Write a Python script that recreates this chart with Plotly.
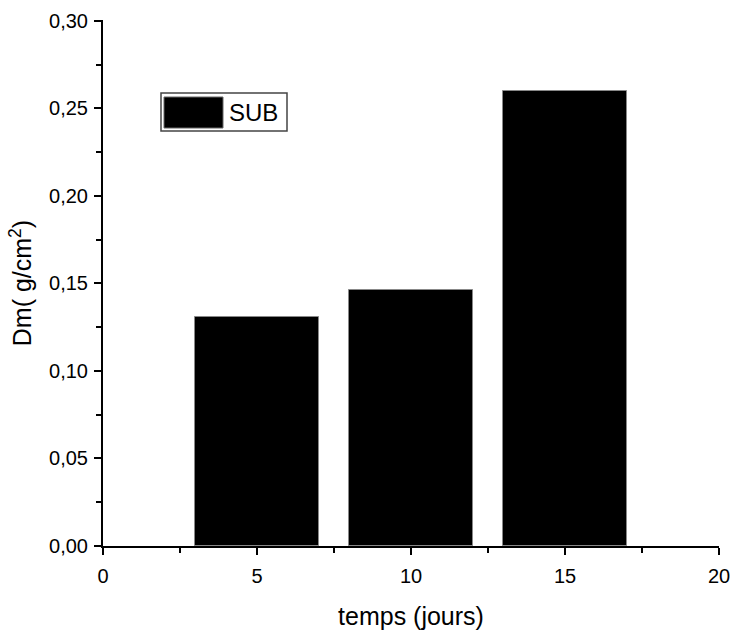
import plotly.graph_objects as go

# Bulk density measurements over time
days = [5, 10, 15]
dm_sub = [0.131, 0.146, 0.260]
bar_width = 4
series_name = "SUB"

x_ticks = [0, 5, 10, 15, 20]
y_ticks = [0.00, 0.05, 0.10, 0.15, 0.20, 0.25, 0.30]

FONT = "Liberation Sans, Arial, sans-serif"

fig = go.Figure()
fig.add_trace(go.Bar(
    x=days, y=dm_sub, width=bar_width, name=series_name,
    marker=dict(color="black", line=dict(color="#888888", width=1)),
    showlegend=False,
))

axis_common = dict(
    showline=True, linecolor="black", linewidth=2,
    ticks="outside", ticklen=7, tickwidth=2, tickcolor="black",
    showgrid=False, zeroline=False, mirror=False, automargin=False,
    ticklabeloverflow="allow",
    tickfont=dict(family=FONT, size=20, color="black"),
    title_font=dict(family=FONT, size=25, color="black"),
)

fig.update_xaxes(
    range=[0, 20], tickvals=x_ticks, ticktext=[str(v) for v in x_ticks],
    minor=dict(ticks="outside", ticklen=5, tickwidth=2, tickcolor="black",
               dtick=2.5, tick0=0),
    ticklabelstandoff=4,
    title_text="temps (jours)", title_standoff=22,
    **axis_common,
)
fig.update_yaxes(
    range=[0, 0.3005], tickvals=y_ticks, tickformat=".2f",
    minor=dict(ticks="outside", ticklen=5, tickwidth=2, tickcolor="black",
               dtick=0.025, tick0=0),
    ticklabelstandoff=2,
    title_text="Dm( g/cm<sup>2</sup>)", title_standoff=10,
    **axis_common,
)

# Legend box drawn with a framed swatch and label
fig.add_shape(type="rect", xref="paper", yref="paper",
              x0=(161 - 103) / 616, x1=(287 - 103) / 616,
              y0=(546 - 131) / 526, y1=(546 - 93) / 526,
              line=dict(color="#444444", width=1.5), fillcolor="white", layer="above")
fig.add_shape(type="rect", xref="paper", yref="paper",
              x0=(164 - 103) / 616, x1=(223 - 103) / 616,
              y0=(546 - 128) / 526, y1=(546 - 97) / 526,
              line=dict(color="#666666", width=1), fillcolor="black", layer="above")
fig.add_annotation(xref="paper", yref="paper",
                   x=(227 - 103) / 616, y=(546 - 112) / 526,
                   xanchor="left", yanchor="middle", showarrow=False,
                   text=series_name, font=dict(family=FONT, size=24, color="black"))

fig.update_layout(
    width=730, height=630,
    margin=dict(l=103, r=11, t=20, b=84),
    plot_bgcolor="white", paper_bgcolor="white",
    separators=", ",
    bargap=0,
)

fig.write_html("out.html")
